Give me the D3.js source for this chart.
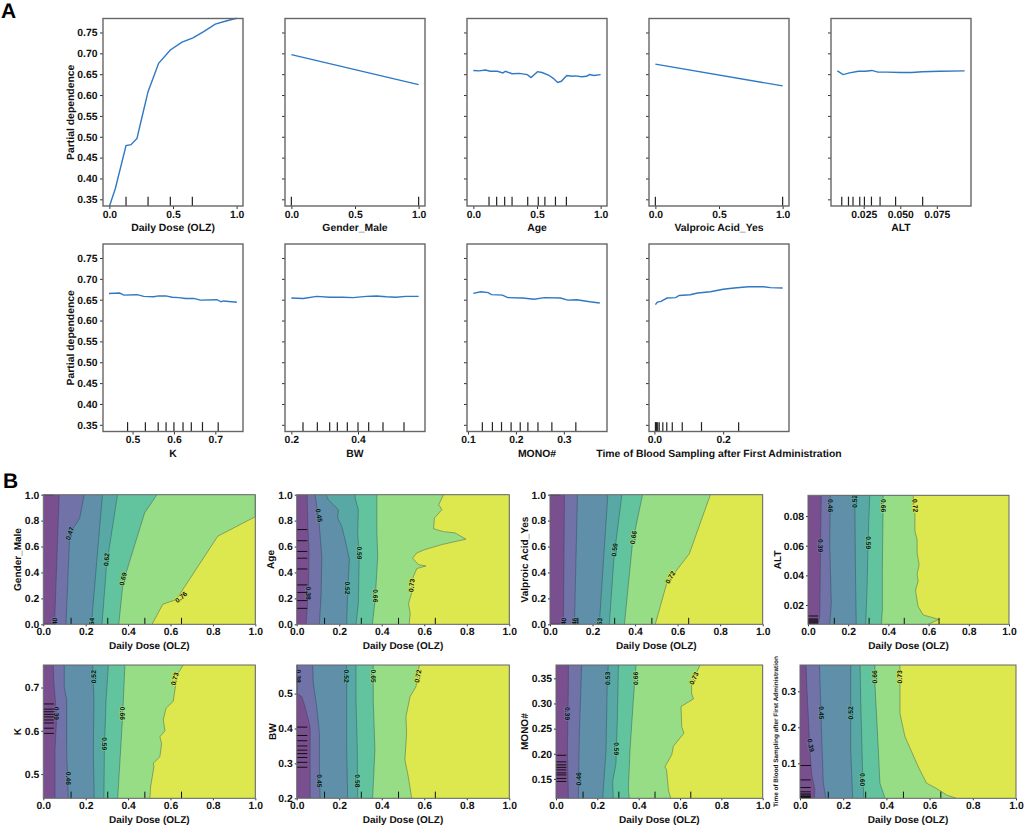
<!DOCTYPE html>
<html lang="en">
<head>
<meta charset="utf-8">
<title>Partial dependence plots</title>
<script src="https://cdn.jsdelivr.net/npm/d3@7"></script>
<style>
html, body { margin: 0; padding: 0; background: #fff; }
svg { display: block; }
text { font-family: "Liberation Sans", Arial, sans-serif; font-weight: bold; fill: #111; text-rendering: geometricPrecision; }
</style>
</head>
<body>
<svg width="1024" height="826"></svg>
<script>
// one-way partial dependence, [feature value, dependence]
var doseCurve = [[0,.333],[.047,.376],[.131,.479],[.17,.481],[.217,.496],[.257,.548],[.304,.608],[.387,.676],[.479,.708],[.571,.727],[.657,.737],[.741,.752],[.832,.77],[.924,.778],[1,.784]];
var genderCurve = [[0,.697],[1,.625]];
var ageCurve = [[0,.659],[.046,.658],[.095,.66],[.132,.657],[.189,.657],[.232,.653],[.252,.657],[.304,.651],[.361,.652],[.424,.649],[.453,.642],[.504,.656],[.539,.654],[.59,.648],[.628,.64],[.662,.63],[.691,.633],[.734,.647],[.777,.645],[.805,.646],[.848,.644],[.891,.645],[.911,.649],[.948,.647],[1,.649]];
var valproicCurve = [[0,.674],[1,.622]];
var altCurve = [[.007,.658],[.0109,.649],[.0153,.653],[.0214,.657],[.0262,.657],[.0306,.659],[.0347,.655],[.0408,.655],[.0505,.654],[.0578,.654],[.065,.656],[.0772,.657],[.094,.658]];
var kCurve = [[.443,.665],[.469,.666],[.479,.661],[.511,.662],[.527,.658],[.551,.657],[.563,.659],[.58,.659],[.596,.656],[.612,.655],[.628,.653],[.648,.653],[.664,.649],[.704,.65],[.714,.645],[.72,.647],[.752,.644]];
var bwCurve = [[.2,.654],[.236,.653],[.276,.658],[.315,.656],[.355,.656],[.385,.655],[.425,.658],[.455,.659],[.485,.657],[.514,.656],[.544,.658],[.582,.658]];
var monoCurve = [[.111,.665],[.127,.669],[.142,.667],[.149,.662],[.172,.661],[.183,.655],[.214,.654],[.238,.651],[.259,.655],[.293,.654],[.308,.649],[.327,.65],[.354,.645],[.375,.642]];
var timeCurve = [[.003,.638],[.0085,.644],[.019,.646],[.037,.654],[.062,.655],[.072,.66],[.104,.662],[.126,.666],[.163,.669],[.2,.675],[.232,.678],[.274,.681],[.317,.681],[.338,.679],[.373,.678]];

// decile rugs
var doseRug = [.131,.304,.479,.652];
var binaryRug = [0,1];
var ageRug = [.123,.183,.246,.304,.427,.51,.562,.645,.731];
var altRug = [.01,.0146,.0177,.0223,.0255,.0303,.0362,.0468,.0653];
var kRug = [.488,.531,.562,.581,.6,.622,.642,.669,.707];
var bwRug = [.235,.278,.315,.338,.368,.4,.432,.475,.538];
var monoRug = [.13,.151,.17,.19,.209,.225,.246,.275,.325];
var timeRug = [.003,.006,.0096,.014,.0245,.036,.052,.081,.137,.245];

// rugs on the y axis of the two-way plots
var altRugB = [.0078,.0085,.0092,.0099,.0106,.0126];
var kRugB = [.594,.606,.618,.625,.632,.638,.644,.65,.662];
var bwRugB = [.289,.303,.317,.328,.338,.35,.365,.38,.404];
var monoRugB = [.145,.151,.158,.162,.168,.173,.178,.184,.197];
var timeRugB = [.004,.005,.008,.012,.015,.021,.033,.054,.094];

// tick labels
var pdTicks = [.35,.4,.45,.5,.55,.6,.65,.7,.75];
var unitTicks = [0,.5,1];
var altTicks = [.025,.05,.075];
var kTicks = [.5,.6,.7];
var bwTicks = [.2,.4];
var monoTicks = [.1,.2,.3];
var timeTicks = [0,.2];
var fifthTicks = [0,.2,.4,.6,.8,1];
var altTicksB = [.02,.04,.06,.08];
var kTicksB = [.5,.6,.7];
var bwTicksB = [.2,.3,.4,.5];
var monoTicksB = [.15,.2,.25,.3,.35];
var timeTicksB = [.1,.2,.3];

// contour levels of the two-way plots, each boundary as [dose, feature] going up
var genderContours = [
  [[.053,0],[.075,1]],
  [[.107,0],[.125,.7],[.172,.82],[.193,1]],
  [[.227,0],[.279,1]],
  [[.277,0],[.298,.45],[.35,1]],
  [[.356,0],[.376,.32],[.478,.86],[.536,1]],
  [[.513,0],[.564,.155],[.627,.19],[.823,.68],[1,.83],[1,1]]
];
var ageContours = [
  [[.044,0],[.055,.265],[.058,.57],[.052,.78],[.049,1]],
  [[.107,0],[.115,.24],[.118,.52],[.107,.755],[.09,.96],[.086,1]],
  [[.235,0],[.24,.265],[.248,.5],[.228,.65],[.212,.755],[.193,.82],[.196,.885],[.149,.96],[.138,1]],
  [[.279,0],[.29,.16],[.294,.52],[.287,.7],[.29,.885],[.275,.975],[.275,1]],
  [[.356,0],[.369,.19],[.381,.52],[.377,.73],[.377,1]],
  [[.529,0],[.534,.085],[.526,.16],[.545,.265],[.542,.34],[.565,.43],[.608,.45],[.573,.46],[.545,.51],[.565,.55],[.6,.575],[.683,.615],[.796,.657],[.746,.705],[.691,.715],[.644,.737],[.648,.82],[.683,.885],[.668,.923],[.691,1]]
];
var valproicContours = [
  [[.063,0],[.068,1]],
  [[.115,0],[.129,1]],
  [[.232,0],[.272,1]],
  [[.279,0],[.301,.52],[.338,1]],
  [[.35,0],[.388,.63],[.435,1]],
  [[.495,0],[.549,.317],[.597,.42],[.655,.544],[.754,1]]
];
var altContours = [
  [[.05,.007],[.058,.012],[.06,.03],[.062,.06],[.066,.094]],
  [[.108,.007],[.116,.021],[.108,.06],[.111,.094]],
  [[.24,.007],[.236,.044],[.233,.094]],
  [[.287,.007],[.294,.032],[.299,.062],[.307,.094]],
  [[.365,.007],[.37,.017],[.37,.044],[.374,.094]],
  [[.598,.007],[.651,.0103],[.573,.0133],[.548,.019],[.543,.023],[.535,.03],[.548,.036],[.543,.041],[.553,.047],[.543,.055],[.543,.064],[.532,.07],[.532,.082],[.523,.094]]
];
var kContours = [
  [[.055,.444],[.055,.555],[.063,.632],[.05,.71],[.047,.752]],
  [[.118,.444],[.11,.556],[.11,.672],[.099,.7],[.099,.752]],
  [[.24,.444],[.236,.556],[.239,.67],[.233,.752]],
  [[.286,.444],[.288,.556],[.296,.67],[.307,.752]],
  [[.351,.444],[.374,.632],[.385,.752]],
  [[.503,.444],[.506,.47],[.522,.517],[.519,.525],[.55,.54],[.558,.57],[.55,.586],[.574,.6],[.566,.625],[.579,.652],[.613,.668],[.621,.695],[.632,.73],[.66,.752]]
];
var bwContours = [
  [[.063,.2],[.063,.338],[.063,.405],[.039,.463],[.024,.491],[.003,.5],[.003,.582]],
  [[.11,.2],[.107,.29],[.107,.386],[.094,.463],[.078,.53],[.075,.582]],
  [[.24,.2],[.235,.338],[.235,.582]],
  [[.287,.2],[.285,.338],[.279,.482],[.279,.582]],
  [[.357,.2],[.368,.338],[.36,.482],[.36,.582]],
  [[.541,.2],[.525,.262],[.509,.31],[.517,.386],[.514,.434],[.533,.491],[.561,.52],[.577,.582]]
];
var monoContours = [
  [[.06,.1115],[.055,.207],[.06,.34],[.06,.3765]],
  [[.108,.1115],[.113,.24],[.124,.3765]],
  [[.226,.1115],[.242,.207],[.248,.34],[.253,.3765]],
  [[.277,.1115],[.274,.145],[.29,.18],[.297,.27],[.302,.3765]],
  [[.355,.1115],[.35,.128],[.358,.207],[.374,.306],[.387,.3765]],
  [[.555,.1115],[.544,.128],[.535,.168],[.527,.174],[.56,.198],[.568,.215],[.619,.241],[.608,.254],[.605,.294],[.665,.309],[.656,.32],[.656,.34],[.697,.3765]]
];
var timeContours = [
  [[.066,.003],[.069,.026],[.054,.07],[.046,.134],[.031,.32],[.028,.373]],
  [[.12,.003],[.108,.045],[.1,.18],[.093,.32],[.09,.373]],
  [[.244,.003],[.235,.134],[.235,.373]],
  [[.296,.003],[.29,.07],[.281,.276],[.278,.373]],
  [[.394,.003],[.37,.045],[.363,.134],[.347,.32],[.347,.373]],
  [[.725,.003],[.679,.012],[.633,.03],[.586,.045],[.548,.09],[.517,.132],[.486,.174],[.463,.238],[.463,.373]]
];

// contour labels: text, dose, feature, rotation
var genderLabels = [["0.40",.053,0,-88],["0.47",.125,.7,-72],["0.54",.227,0,-85],["0.62",.298,.5,-85],["0.69",.376,.35,-76],["0.76",.65,.21,-40]];
var ageLabels = [["0.38",.056,.24,90],["0.45",.105,.84,80],["0.52",.24,.28,90],["0.59",.295,.55,90],["0.66",.368,.22,90],["0.73",.54,.3,-85]];
var valproicLabels = [["0.40",.063,0,-88],["0.46",.115,0,-88],["0.53",.232,0,-86],["0.59",.303,.575,-83],["0.66",.392,.67,-80],["0.72",.565,.363,-60]];
var altLabels = [["0.39",.06,.06,90],["0.46",.11,.087,90],["0.52",.234,.09,-90],["0.59",.298,.062,90],["0.66",.375,.087,90],["0.72",.533,.087,85]];
var kLabels = [["0.39",.06,.64,90],["0.46",.118,.49,90],["0.52",.235,.725,-90],["0.59",.288,.57,90],["0.66",.372,.64,90],["0.73",.62,.72,-75]];
var bwLabels = [["0.38",.01,.55,90],["0.45",.108,.25,90],["0.52",.235,.55,90],["0.58",.287,.25,90],["0.65",.36,.55,90],["0.72",.57,.55,-80]];
var monoLabels = [["0.39",.055,.28,90],["0.46",.107,.15,-90],["0.53",.248,.35,-90],["0.59",.293,.21,90],["0.66",.383,.35,-90],["0.73",.667,.35,-65]];
var timeLabels = [["0.39",.05,.15,80],["0.45",.098,.24,90],["0.52",.235,.24,-90],["0.60",.29,.055,90],["0.66",.347,.34,-90],["0.73",.463,.34,-90]];

var bandColors = ["#7a4f8f","#7072a8","#5f8fa9","#58a9a5","#62c49f","#97dd85","#dde84f"];
var lineColor = "#2f78c4";
var frameColor = "#666";
var axisFont = 10.4;

var svg = d3.select("svg");
var clipCount = 0;

function drawAxis(g, axis, size) {
  g.call(axis);
  g.select(".domain").remove();
  g.selectAll(".tick line").attr("stroke", "#333").attr("stroke-width", 1);
  g.selectAll("text").style("font-size", size + "px");
}

function frame(g, w, h, width) {
  g.append("rect")
    .attr("width", w).attr("height", h)
    .attr("fill", "none")
    .attr("stroke", frameColor)
    .attr("stroke-width", width);
}

function lineChart(p) {
  var w = 140, h = 187.5;
  var g = svg.append("g").attr("transform", "translate(" + p.left + "," + p.top + ")");
  var x = d3.scaleLinear().domain(p.domain).range([0, w]);
  var y = d3.scaleLinear().domain([.334, .7835]).range([h, 0]);

  g.append("path")
    .attr("d", d3.line().x(function (d) { return x(d[0]); }).y(function (d) { return y(d[1]); })(p.data))
    .attr("fill", "none")
    .attr("stroke", lineColor)
    .attr("stroke-width", 1.4);

  g.selectAll(".rug").data(p.rug).enter().append("line")
    .attr("x1", function (d) { return x(d); })
    .attr("x2", function (d) { return x(d); })
    .attr("y1", h)
    .attr("y2", h * .95)
    .attr("stroke", "#222")
    .attr("stroke-width", 1.2);

  drawAxis(g.append("g").attr("transform", "translate(0," + h + ")"),
    d3.axisBottom(x).tickValues(p.ticks).tickFormat(d3.format(p.format)).tickSize(3).tickPadding(1.5), axisFont);
  drawAxis(g.append("g"),
    d3.axisLeft(y).tickValues(pdTicks).tickFormat(p.yLabels ? d3.format(".2f") : "").tickSize(3).tickPadding(2.5), axisFont);
  frame(g, w, h, 1.4);

  g.append("text")
    .attr("x", p.labelX === undefined ? w / 2 : p.labelX)
    .attr("y", h + 25)
    .attr("text-anchor", "middle")
    .style("font-size", axisFont + "px")
    .text(p.name);
  if (p.yLabels) {
    g.append("text")
      .attr("transform", "translate(-29," + (h / 2) + ") rotate(-90)")
      .attr("text-anchor", "middle")
      .style("font-size", axisFont + "px")
      .text("Partial dependence");
  }
}

function contourChart(p) {
  var w = p.right - p.left, h = p.bottom - p.top;
  var g = svg.append("g").attr("transform", "translate(" + p.left + "," + p.top + ")");
  var x = d3.scaleLinear().domain([0, 1]).range([0, w]);
  var y = d3.scaleLinear().domain(p.domain).range([h, 0]);
  var id = "plot" + (clipCount++);
  g.append("clipPath").attr("id", id).append("rect").attr("width", w).attr("height", h);
  var plot = g.append("g").attr("clip-path", "url(#" + id + ")");

  var fill = d3.area()
    .x0(function (d) { return x(d[0]); })
    .x1(w)
    .y(function (d) { return y(d[1]); });
  var edge = d3.line()
    .x(function (d) { return x(d[0]); })
    .y(function (d) { return y(d[1]); });

  plot.append("rect").attr("width", w).attr("height", h).attr("fill", bandColors[0]);
  plot.selectAll(".band").data(p.contours).enter().append("path")
    .attr("d", function (d) { return fill(d); })
    .attr("fill", function (d, i) { return bandColors[i + 1]; });
  plot.selectAll(".edge").data(p.contours).enter().append("path")
    .attr("d", function (d) { return edge(d); })
    .attr("fill", "none")
    .attr("stroke", "#2a3a45")
    .attr("stroke-opacity", .65)
    .attr("stroke-width", .6);

  plot.selectAll(".lab").data(p.labels).enter().append("text")
    .attr("transform", function (d) { return "translate(" + x(d[1]) + "," + y(d[2]) + ") rotate(" + d[3] + ")"; })
    .attr("text-anchor", "middle")
    .attr("dy", "0.35em")
    .attr("stroke", function (d, i) { return bandColors[i + 1]; })
    .attr("stroke-width", 1.6)
    .attr("paint-order", "stroke")
    .style("font-size", "6.8px")
    .text(function (d) { return d[0]; });

  plot.selectAll(".rugx").data(doseRug).enter().append("line")
    .attr("x1", function (d) { return x(d); })
    .attr("x2", function (d) { return x(d); })
    .attr("y1", h)
    .attr("y2", h * .95)
    .attr("stroke", "#111")
    .attr("stroke-width", 1);
  plot.selectAll(".rugy").data(p.rug).enter().append("line")
    .attr("y1", function (d) { return y(d); })
    .attr("y2", function (d) { return y(d); })
    .attr("x1", 0)
    .attr("x2", w * .05)
    .attr("stroke", "#111")
    .attr("stroke-width", 1);

  drawAxis(g.append("g").attr("transform", "translate(0," + h + ")"),
    d3.axisBottom(x).tickValues(fifthTicks).tickFormat(d3.format(".1f")).tickSize(2).tickPadding(1.5), axisFont);
  drawAxis(g.append("g"),
    d3.axisLeft(y).tickValues(p.ticks).tickFormat(d3.format(p.format)).tickSize(2).tickPadding(2), axisFont);
  frame(g, w, h, 1);

  g.append("text")
    .attr("x", w / 2)
    .attr("y", h + 24.5)
    .attr("text-anchor", "middle")
    .style("font-size", "10px")
    .text("Daily Dose (OLZ)");
  g.append("text")
    .attr("transform", "translate(" + (p.labelX - p.left) + "," + (h / 2) + ") rotate(-90)")
    .attr("text-anchor", "middle")
    .style("font-size", (p.labelSize || 10) + "px")
    .text(p.name);
}

var topRow = 18.5, bottomRow = 244;
lineChart({ left: 103, top: topRow, name: "Daily Dose (OLZ)", data: doseCurve, rug: doseRug, domain: [-.05, 1.05], ticks: unitTicks, format: ".1f", yLabels: true });
lineChart({ left: 285, top: topRow, name: "Gender_Male", data: genderCurve, rug: binaryRug, domain: [-.05, 1.05], ticks: unitTicks, format: ".1f" });
lineChart({ left: 467, top: topRow, name: "Age", data: ageCurve, rug: ageRug, domain: [-.05, 1.05], ticks: unitTicks, format: ".1f" });
lineChart({ left: 649, top: topRow, name: "Valproic Acid_Yes", data: valproicCurve, rug: binaryRug, domain: [-.05, 1.05], ticks: unitTicks, format: ".1f" });
lineChart({ left: 831, top: topRow, name: "ALT", data: altCurve, rug: altRug, domain: [.00265, .09835], ticks: altTicks, format: ".3f" });
lineChart({ left: 103, top: bottomRow, name: "K", data: kCurve, rug: kRug, domain: [.4286, .7669], ticks: kTicks, format: ".1f", yLabels: true });
lineChart({ left: 285, top: bottomRow, name: "BW", data: bwCurve, rug: bwRug, domain: [.181, .601], ticks: bwTicks, format: ".1f" });
lineChart({ left: 467, top: bottomRow, name: "MONO#", data: monoCurve, rug: monoRug, domain: [.098, .39], ticks: monoTicks, format: ".1f" });
lineChart({ left: 649, top: bottomRow, name: "Time of Blood Sampling after First Administration", data: timeCurve, rug: timeRug, domain: [-.0157, .3915], ticks: timeTicks, format: ".1f", labelX: 70 });

contourChart({ left: 43.3, right: 255.3, top: 494.7, bottom: 624.3, name: "Gender_Male", labelX: 21, domain: [0, 1], contours: genderContours, labels: genderLabels, rug: binaryRug, ticks: fifthTicks, format: ".1f" });
contourChart({ left: 296.7, right: 509.3, top: 494.7, bottom: 624.3, name: "Age", labelX: 274, domain: [0, 1], contours: ageContours, labels: ageLabels, rug: ageRug, ticks: fifthTicks, format: ".1f" });
contourChart({ left: 550, right: 762.7, top: 494.7, bottom: 624.3, name: "Valproic Acid_Yes", labelX: 528, domain: [0, 1], contours: valproicContours, labels: valproicLabels, rug: binaryRug, ticks: fifthTicks, format: ".1f" });
contourChart({ left: 808, right: 1009, top: 495.3, bottom: 624.3, name: "ALT", labelX: 781, domain: [.007, .094], contours: altContours, labels: altLabels, rug: altRugB, ticks: altTicksB, format: ".2f" });
contourChart({ left: 43.3, right: 255.3, top: 665, bottom: 798.3, name: "K", labelX: 21, domain: [.444, .752], contours: kContours, labels: kLabels, rug: kRugB, ticks: kTicksB, format: ".1f" });
contourChart({ left: 296.7, right: 509.3, top: 665, bottom: 798.3, name: "BW", labelX: 276, domain: [.2, .582], contours: bwContours, labels: bwLabels, rug: bwRugB, ticks: bwTicksB, format: ".1f" });
contourChart({ left: 556, right: 762.7, top: 665, bottom: 798.3, name: "MONO#", labelX: 528, domain: [.1115, .3765], contours: monoContours, labels: monoLabels, rug: monoRugB, ticks: monoTicksB, format: ".2f" });
contourChart({ left: 800, right: 1016, top: 665, bottom: 798.3, name: "Time of Blood Sampling after First Administration", labelX: 778, labelSize: 6.4, domain: [.003, .373], contours: timeContours, labels: timeLabels, rug: timeRugB, ticks: timeTicksB, format: ".1f" });

svg.append("text").attr("x", 1).attr("y", 18).style("font-size", "21px").style("fill", "#000").text("A");
svg.append("text").attr("x", 3).attr("y", 488).style("font-size", "21px").style("fill", "#000").text("B");
</script>
</body>
</html>
